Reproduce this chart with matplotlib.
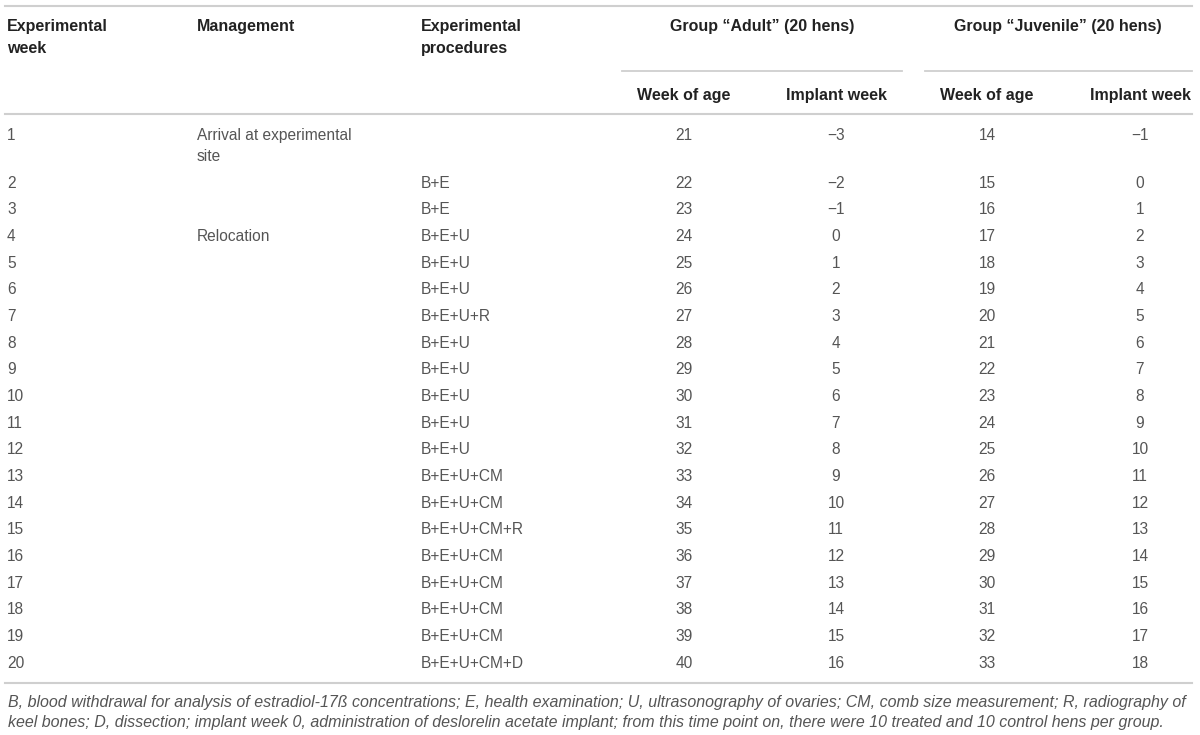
import matplotlib.pyplot as plt

weeks = ["1", "2", "3", "4", "5", "6", "7", "8", "9", "10",
         "11", "12", "13", "14", "15", "16", "17", "18", "19", "20"]
management = ["Arrival at experimental\nsite", "", "", "Relocation", "", "", "", "", "", "",
              "", "", "", "", "", "", "", "", "", ""]
procedures = ["", "B+E", "B+E", "B+E+U", "B+E+U", "B+E+U", "B+E+U+R", "B+E+U", "B+E+U", "B+E+U",
              "B+E+U", "B+E+U", "B+E+U+CM", "B+E+U+CM", "B+E+U+CM+R", "B+E+U+CM", "B+E+U+CM",
              "B+E+U+CM", "B+E+U+CM", "B+E+U+CM+D"]
adult_age = [21, 22, 23, 24, 25, 26, 27, 28, 29, 30, 31, 32, 33, 34, 35, 36, 37, 38, 39, 40]
adult_implant = [-3, -2, -1, 0, 1, 2, 3, 4, 5, 6, 7, 8, 9, 10, 11, 12, 13, 14, 15, 16]
juv_age = [14, 15, 16, 17, 18, 19, 20, 21, 22, 23, 24, 25, 26, 27, 28, 29, 30, 31, 32, 33]
juv_implant = [-1, 0, 1, 2, 3, 4, 5, 6, 7, 8, 9, 10, 11, 12, 13, 14, 15, 16, 17, 18]

headers = ["Experimental\nweek", "Management", "Experimental\nprocedures"]
groups = ["Group \u201cAdult\u201d (20 hens)", "Group \u201cJuvenile\u201d (20 hens)"]
subheaders = ["Week of age", "Implant week", "Week of age", "Implant week"]
footnote = ("B, blood withdrawal for analysis of estradiol-17\u00df concentrations; E, health examination; "
            "U, ultrasonography of ovaries; CM, comb size measurement; R, radiography of\n"
            "keel bones; D, dissection; implant week 0, administration of deslorelin acetate implant; "
            "from this time point on, there were 10 treated and 10 control hens per group.")

plt.rcParams['font.family'] = ['Liberation Sans', 'DejaVu Sans']

fig = plt.figure(figsize=(12, 7.35), dpi=100)
ax = fig.add_axes([0, 0, 1, 1])
ax.set_xlim(0, 1200)
ax.set_ylim(735, 0)
ax.axis('off')

line_c = '#cfcfcf'
head_c = '#222222'
body_c = '#555555'
fs_h = 11.5
fs_b = 11.2


def lines_text(x, y, s, step, **kw):
    # draw multi-line text with a fixed pixel step between lines
    for k, part in enumerate(s.split('\n')):
        ax.text(x, y + k * step, part, va='center', **kw)


# rules
ax.plot([5, 1192], [6, 6], color=line_c, lw=1.5)
ax.plot([5, 1192], [114, 114], color=line_c, lw=1.5)
ax.plot([5, 1192], [683, 683], color=line_c, lw=1.5)
ax.plot([622, 902], [71, 71], color=line_c, lw=1.3)
ax.plot([925, 1192], [71, 71], color=line_c, lw=1.3)

# header
left_x = [7, 197, 421]
for x, h in zip(left_x, headers):
    lines_text(x, 26, h, 22, fontsize=fs_h, fontweight='bold', color=head_c, ha='left')
ax.text(762, 26, groups[0], fontsize=fs_h, fontweight='bold', color=head_c, ha='center', va='center')
ax.text(1058, 26, groups[1], fontsize=fs_h, fontweight='bold', color=head_c, ha='center', va='center')
num_x = [684, 836, 987, 1140]
for x, s in zip(num_x, subheaders):
    ax.text(x, 95, s, fontsize=fs_h, fontweight='bold', color=head_c, ha='center', va='center')


def fmt(v):
    return str(v).replace('-', '\u2212')


row_step = 26.67
for i in range(len(weeks)):
    y = 135 if i == 0 else 183 + (i - 1) * row_step
    ax.text(left_x[0], y, weeks[i], fontsize=fs_b, color=body_c, ha='left', va='center')
    if management[i]:
        lines_text(left_x[1], y, management[i], 21, fontsize=fs_b, color=body_c, ha='left')
    ax.text(left_x[2], y, procedures[i], fontsize=fs_b, color=body_c, ha='left', va='center')
    cols = [adult_age[i], adult_implant[i], juv_age[i], juv_implant[i]]
    for x, v in zip(num_x, cols):
        ax.text(x, y, fmt(v), fontsize=fs_b, color=body_c, ha='center', va='center')

lines_text(8, 702, footnote, 20, fontsize=11.5, style='italic', color=body_c, ha='left')

fig.savefig('out.png', dpi=100)
